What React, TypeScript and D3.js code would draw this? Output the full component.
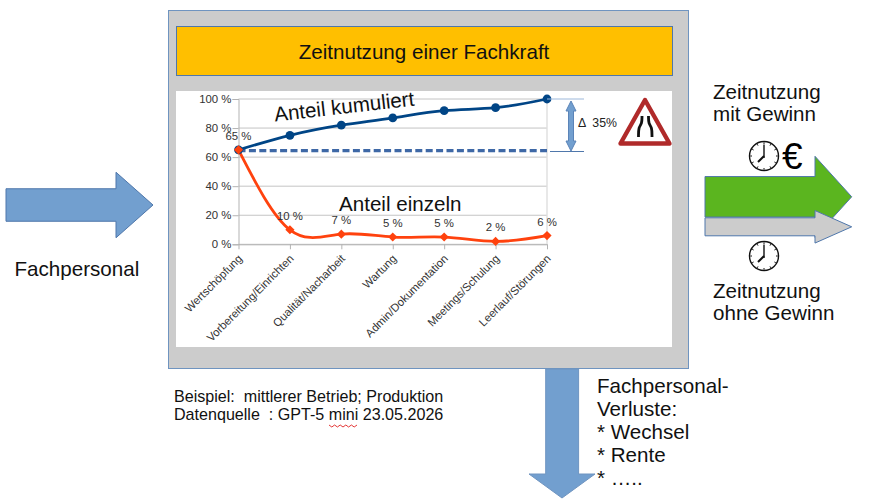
import React, { useEffect, useRef } from "react";
import * as d3 from "d3";

const categories = [
  "Wertschöpfung",
  "Vorbereitung/Einrichten",
  "Qualität/Nacharbeit",
  "Wartung",
  "Admin/Dokumentation",
  "Meetings/Schulung",
  "Leerlauf/Störungen",
];
const singleShare = [65, 10, 7, 5, 5, 2, 6];
const cumulativeShare = [65, 75, 82, 87, 92, 94, 100];
const yTicks = [0, 20, 40, 60, 80, 100];
const baseline = 64.5;

const FONT = "'Liberation Sans', Arial, sans-serif";
const BLUE = "#729fcf";
const EDGE = "#4f77ab";

type Sel = d3.Selection<any, any, any, any>;

// right pointing block arrow
function hArrow(g: Sel, x0: number, x1: number, xHead: number, yMid: number, shaft: number, head: number, fill: string) {
  const p = d3.path();
  p.moveTo(x0, yMid - shaft / 2);
  p.lineTo(xHead, yMid - shaft / 2);
  p.lineTo(xHead, yMid - head / 2);
  p.lineTo(x1, yMid);
  p.lineTo(xHead, yMid + head / 2);
  p.lineTo(xHead, yMid + shaft / 2);
  p.lineTo(x0, yMid + shaft / 2);
  p.closePath();
  g.append("path").attr("d", p.toString()).attr("fill", fill).attr("stroke", EDGE).attr("stroke-width", 1);
}

function clock(g: Sel, cx: number, cy: number, r: number) {
  const c = g.append("g").attr("transform", `translate(${cx},${cy})`);
  c.append("circle").attr("r", r).attr("fill", "#fff").attr("stroke", "#111").attr("stroke-width", 1.4);
  d3.range(12).forEach((i) => {
    const a = (i * Math.PI) / 6;
    c.append("line")
      .attr("x1", Math.sin(a) * (r - 2.5))
      .attr("y1", -Math.cos(a) * (r - 2.5))
      .attr("x2", Math.sin(a) * (r - 0.8))
      .attr("y2", -Math.cos(a) * (r - 0.8))
      .attr("stroke", "#111")
      .attr("stroke-width", 1);
  });
  c.append("line").attr("x1", 0).attr("y1", 2).attr("x2", 0).attr("y2", -r + 3).attr("stroke", "#111").attr("stroke-width", 1.4);
  c.append("line").attr("x1", 0).attr("y1", 0).attr("x2", -6).attr("y2", 6).attr("stroke", "#111").attr("stroke-width", 2);
}

function label(g: Sel, x: number, y: number, txt: string, size: number, fill = "#111") {
  return g
    .append("text")
    .attr("x", x)
    .attr("y", y)
    .attr("font-size", size)
    .attr("fill", fill)
    .style("white-space", "pre")
    .text(txt);
}

export default function App() {
  const ref = useRef<SVGSVGElement>(null);

  useEffect(() => {
    if (!ref.current) return;
    const svg = d3.select(ref.current);
    svg.selectAll("*").remove();
    svg.attr("font-family", FONT);

    // panel
    svg.append("rect").attr("x", 168.5).attr("y", 10.5).attr("width", 520).attr("height", 358).attr("fill", "#cccccc").attr("stroke", "#6f94c0");
    svg.append("rect").attr("x", 176.5).attr("y", 26.5).attr("width", 496).attr("height", 49).attr("fill", "#ffbf00").attr("stroke", EDGE);
    svg.append("rect").attr("x", 176).attr("y", 91).attr("width", 496).attr("height", 256).attr("fill", "#fff");
    label(svg, 424, 59, "Zeitnutzung einer Fachkraft", 20.6).attr("text-anchor", "middle");

    // arrows around the panel
    hArrow(svg, 6, 153, 116, 205, 32.5, 65.5, BLUE);
    hArrow(svg, 705, 851.7, 815, 196.8, 40.5, 81, "#5bb51f");
    hArrow(svg, 705, 851.7, 815, 226.8, 18, 32.5, "#cccccc");

    const down = d3.path();
    down.moveTo(545.7, 369);
    down.lineTo(578.6, 369);
    down.lineTo(578.6, 474);
    down.lineTo(595, 474);
    down.lineTo(562, 498);
    down.lineTo(529, 474);
    down.lineTo(545.7, 474);
    down.closePath();
    svg.append("path").attr("d", down.toString()).attr("fill", BLUE).attr("stroke", "#6f94c0");

    // chart
    const x = d3.scalePoint<string>().domain(categories).range([238.5, 547]);
    const y = d3.scaleLinear().domain([0, 100]).range([244.3, 99]);
    const px = (i: number) => x(categories[i]) as number;

    const grid = svg.append("g");
    yTicks.forEach((t) => {
      grid.append("line").attr("x1", 238.5).attr("x2", 547).attr("y1", y(t)).attr("y2", y(t)).attr("stroke", "#c4c4c4").attr("stroke-width", 1);
    });
    grid.append("line").attr("x1", 547).attr("x2", 547).attr("y1", y(100)).attr("y2", y(0)).attr("stroke", "#dedede").attr("stroke-width", 1.4);

    const yAxis = svg
      .append("g")
      .attr("transform", "translate(238.5,0)")
      .call(d3.axisLeft(y).tickValues(yTicks).tickSize(6).tickPadding(1).tickFormat((d: any) => `${d} %`));
    yAxis.select(".domain").attr("stroke", "#b3b3b3");
    yAxis.selectAll("line").attr("stroke", "#b3b3b3");
    yAxis.selectAll("text").attr("font-size", 11.4).attr("font-family", FONT).attr("fill", "#333");

    const xAxis = svg
      .append("g")
      .attr("transform", `translate(0,${y(0)})`)
      .call(d3.axisBottom(x).tickSize(5).tickSizeOuter(0));
    xAxis.select(".domain").attr("stroke", "#b3b3b3");
    xAxis.selectAll("line").attr("stroke", "#b3b3b3");
    xAxis
      .selectAll("text")
      .attr("font-size", 11.3)
      .attr("font-family", FONT)
      .attr("fill", "#333")
      .attr("text-anchor", "end")
      .attr("dy", 0)
      .attr("y", 0)
      .attr("transform", "translate(4,15) rotate(-45)");

    // reference line
    svg.append("line")
      .attr("x1", px(0))
      .attr("x2", px(6))
      .attr("y1", y(baseline))
      .attr("y2", y(baseline))
      .attr("stroke", "#3e68a6")
      .attr("stroke-width", 3.2)
      .attr("stroke-dasharray", "7 3.4");

    const line = d3
      .line<number>()
      .x((_, i) => px(i))
      .y((d) => y(d))
      .curve(d3.curveNatural);

    svg.append("path").attr("d", line(cumulativeShare)).attr("fill", "none").attr("stroke", "#004586").attr("stroke-width", 2.8);
    svg.append("path").attr("d", line(singleShare)).attr("fill", "none").attr("stroke", "#ff420e").attr("stroke-width", 2.8);

    cumulativeShare.forEach((v, i) => {
      svg.append("circle").attr("cx", px(i)).attr("cy", y(v)).attr("r", 4.4).attr("fill", "#004586");
    });
    const marker = d3.symbol().type(d3.symbolSquare).size(42);
    singleShare.forEach((v, i) => {
      svg.append("path").attr("d", marker()).attr("transform", `translate(${px(i)},${y(v)}) rotate(45)`).attr("fill", "#ff420e");
      label(svg, px(i), y(v) - 10, `${v} %`, 11.4, "#333").attr("text-anchor", "middle");
    });

    label(svg, 0, 0, "Anteil kumuliert", 20.6).attr("transform", "translate(275,121.5) rotate(-6.5)");
    label(svg, 339, 211, "Anteil einzeln", 20.6);

    // delta marker
    svg.append("line").attr("x1", 547).attr("x2", 584).attr("y1", y(100)).attr("y2", y(100)).attr("stroke", "#9db8da");
    svg.append("line").attr("x1", 550).attr("x2", 584).attr("y1", 151.5).attr("y2", 151.5).attr("stroke", "#4f77ab");
    const dbl = d3.path();
    dbl.moveTo(571, 101);
    dbl.lineTo(576, 111);
    dbl.lineTo(573.5, 111);
    dbl.lineTo(573.5, 141);
    dbl.lineTo(576, 141);
    dbl.lineTo(571, 151);
    dbl.lineTo(566, 141);
    dbl.lineTo(568.5, 141);
    dbl.lineTo(568.5, 111);
    dbl.lineTo(566, 111);
    dbl.closePath();
    svg.append("path").attr("d", dbl.toString()).attr("fill", BLUE).attr("stroke", "#5b84b8");
    label(svg, 578, 127, "Δ  35%", 12.3, "#222");

    // warning sign
    const tri = d3.path();
    tri.moveTo(645, 100);
    tri.lineTo(669.5, 143.5);
    tri.lineTo(620.5, 143.5);
    tri.closePath();
    svg.append("path").attr("d", tri.toString()).attr("fill", "#fff").attr("stroke", "#b02a2a").attr("stroke-width", 4.4).attr("stroke-linejoin", "round");
    const road = d3.line<[number, number]>().curve(d3.curveBasis);
    svg.append("path").attr("d", road([[642, 116], [642, 124], [638.5, 127], [638.5, 137]])).attr("fill", "none").attr("stroke", "#111").attr("stroke-width", 2.8);
    svg.append("path").attr("d", road([[648.5, 116], [648.5, 124], [652, 127], [652, 137]])).attr("fill", "none").attr("stroke", "#111").attr("stroke-width", 2.8);

    // right side
    clock(svg, 764, 156, 14.5);
    clock(svg, 764, 256, 14.5);
    label(svg, 782, 169, "€", 37, "#000");
    label(svg, 713, 99, "Zeitnutzung", 20.6);
    label(svg, 713, 121, "mit Gewinn", 20.6);
    label(svg, 713, 298, "Zeitnutzung", 20.6);
    label(svg, 713, 320, "ohne Gewinn", 20.6);

    label(svg, 14.5, 276, "Fachpersonal", 20.6);

    // notes
    label(svg, 174, 402, "Beispiel:  mittlerer Betrieb; Produktion", 16.1);
    label(svg, 174, 420, "Datenquelle  : GPT-5 mini 23.05.2026", 16.1);
    const squiggle = d3.line<number>().x((d) => 329 + d * 2.8).y((_, i) => 425 + (i % 2) * 2);
    svg.append("path").attr("d", squiggle(d3.range(11))).attr("fill", "none").attr("stroke", "#e02020").attr("stroke-width", 0.9);

    ["Fachpersonal-", "Verluste:", "* Wechsel", "* Rente", "* ….."].forEach((t, i) => {
      label(svg, 597, 393 + i * 23, t, 20.6);
    });
  }, []);

  return <svg ref={ref} width={877} height={502} style={{ position: "absolute", left: 0, top: 0 }} />;
}
